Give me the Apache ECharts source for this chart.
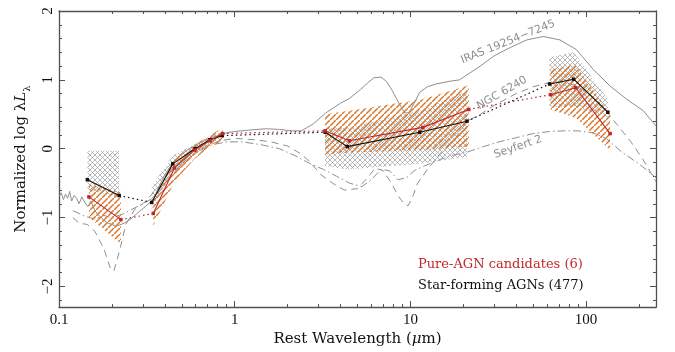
<!DOCTYPE html>
<html>
<head>
<meta charset="utf-8">
<script src="https://cdn.jsdelivr.net/npm/echarts@6/dist/echarts.min.js"></script>
<style>
  html, body { margin: 0; padding: 0; background: #fff; }
  #chart { width: 675px; height: 352px; }
</style>
</head>
<body>
<div id="chart"></div>
<script>
// star-forming AGNs (477): median SED, rest wavelength in micron
const sfWave = [0.145, 0.22, 0.337, 0.444, 0.594, 0.722, 0.85, 3.27, 4.37, 11.3, 21, 62, 85, 133];
const sfLum = [-0.45, -0.68, -0.78, -0.22, 0.0, 0.13, 0.19, 0.24, 0.03, 0.24, 0.40, 0.94, 1.01, 0.53];
const sfUpper = [-0.03, -0.03, -0.55, -0.1, 0.07, 0.18, 0.25, 0.3, 0.3, 0.55, 0.84, 1.33, 1.40, 0.72];
const sfLower = [-0.6, -0.7, -0.88, -0.33, -0.08, 0.07, 0.13, -0.25, -0.3, -0.22, -0.12, 0.6, 0.62, 0.45];

// pure-AGN candidates (6)
const agnWave = [0.148, 0.225, 0.344, 0.454, 0.59, 0.72, 0.855, 3.27, 4.49, 11.75, 21.5, 62.8, 87.3, 137];
const agnLum = [-0.70, -1.03, -0.94, -0.28, -0.02, 0.115, 0.22, 0.26, 0.115, 0.31, 0.57, 0.785, 0.886, 0.22];
const agnUpper = [-0.52, -0.63, -0.75, -0.15, 0.05, 0.2, 0.3, 0.5, 0.55, 0.72, 0.92, 1.15, 1.22, 0.5];
const agnLower = [-1.0, -1.38, -1.12, -0.48, -0.15, 0.02, 0.12, -0.08, -0.06, -0.02, 0.03, 0.57, 0.45, -0.02];

// band groups (UV, optical, MIR, FIR) as index ranges
const bandGroups = [[0, 1], [2, 6], [7, 10], [11, 13]];

// templates
const irasWave = [0.1, 0.103, 0.106, 0.109, 0.112, 0.115, 0.118, 0.122, 0.126, 0.13, 0.135, 0.14, 0.146, 0.152, 0.16, 0.17, 0.18, 0.19, 0.2, 0.21, 0.22, 0.235, 0.25, 0.27, 0.29, 0.31, 0.33, 0.35, 0.37, 0.4, 0.43, 0.46, 0.5, 0.55, 0.6, 0.65, 0.7, 0.8, 0.9, 1.0, 1.2, 1.5, 1.8, 2.1, 2.4, 2.8, 3.3, 4.0, 4.5, 5.2, 5.8, 6.2, 6.8, 7.3, 7.9, 8.6, 9.3, 9.8, 10.5, 11.3, 12.5, 14, 16.8, 19, 21.8, 25, 30, 37, 46, 57, 71, 88, 110, 137, 170, 212, 250];
const irasLum = [-0.70, -0.64, -0.74, -0.66, -0.72, -0.62, -0.76, -0.68, -0.72, -0.80, -0.70, -0.78, -0.84, -0.76, -0.90, -0.98, -1.04, -1.08, -1.10, -1.12, -1.11, -1.08, -1.04, -0.97, -0.90, -0.84, -0.78, -0.70, -0.55, -0.38, -0.26, -0.16, -0.08, 0.0, 0.05, 0.1, 0.14, 0.19, 0.23, 0.25, 0.27, 0.29, 0.28, 0.26, 0.26, 0.36, 0.52, 0.66, 0.73, 0.86, 0.97, 1.03, 1.04, 0.98, 0.84, 0.66, 0.52, 0.52, 0.66, 0.82, 0.9, 0.94, 0.98, 1.0, 1.10, 1.2, 1.35, 1.47, 1.58, 1.63, 1.58, 1.44, 1.15, 0.91, 0.72, 0.55, 0.33];

const ngcWave = [0.12, 0.13, 0.145, 0.16, 0.18, 0.195, 0.205, 0.215, 0.225, 0.24, 0.27, 0.3, 0.35, 0.4, 0.45, 0.5, 0.6, 0.7, 0.85, 1.0, 1.3, 1.6, 2.0, 2.4, 2.7, 3.1, 3.6, 4.2, 5.0, 5.8, 6.3, 7.0, 7.8, 8.5, 9.2, 9.7, 10.3, 11.0, 12.5, 15, 18, 21, 25, 30, 40, 50, 62, 75, 90, 110, 130, 150, 180, 210, 250];
const ngcLum = [-1.0, -1.08, -1.1, -1.2, -1.45, -1.72, -1.78, -1.6, -1.4, -1.1, -0.88, -0.8, -0.62, -0.48, -0.35, -0.22, -0.06, 0.05, 0.12, 0.15, 0.13, 0.1, 0.04, -0.08, -0.2, -0.38, -0.5, -0.6, -0.58, -0.4, -0.28, -0.32, -0.5, -0.68, -0.8, -0.83, -0.7, -0.5, -0.3, -0.05, 0.15, 0.4, 0.5, 0.63, 0.8, 0.9, 0.96, 0.97, 0.9, 0.75, 0.55, 0.35, 0.1, -0.15, -0.48];

const sy2Wave = [0.12, 0.14, 0.16, 0.18, 0.2, 0.23, 0.26, 0.3, 0.34, 0.38, 0.42, 0.5, 0.6, 0.75, 0.9, 1.1, 1.4, 1.8, 2.2, 2.7, 3.2, 3.8, 4.5, 5.3, 6.0, 6.8, 7.6, 8.5, 9.5, 10.5, 12, 14, 17, 21, 26, 32, 40, 50, 62, 75, 90, 110, 130, 160, 200, 250];
const sy2Lum = [-0.9, -0.98, -1.02, -0.97, -1.0, -0.95, -0.88, -0.8, -0.72, -0.6, -0.45, -0.22, -0.06, 0.06, 0.1, 0.1, 0.06, 0.0, -0.1, -0.22, -0.3, -0.4, -0.5, -0.55, -0.45, -0.3, -0.32, -0.45, -0.42, -0.32, -0.25, -0.18, -0.1, -0.05, 0.03, 0.1, 0.16, 0.22, 0.25, 0.26, 0.26, 0.23, 0.15, -0.05, -0.22, -0.42];

// ticks
const xMajorTicks = [0.1, 1, 10, 100];
const xMinorTicks = [0.2, 0.3, 0.4, 0.5, 0.6, 0.7, 0.8, 0.9, 2, 3, 4, 5, 6, 7, 8, 9, 20, 30, 40, 50, 60, 70, 80, 90, 200];
const yMajorTicks = [-2, -1, 0, 1, 2];
const yMinorTicks = [-2.2, -1.8, -1.6, -1.4, -1.2, -0.8, -0.6, -0.4, -0.2, 0.2, 0.4, 0.6, 0.8, 1.2, 1.4, 1.6, 1.8];

const RED = '#c0272d';
const ORANGE = '#d9782f';
const TEMPLATE = '#8f8f8f';
const FRAME = '#505050';

const lg = v => Math.log10(v);
const toXY = (wave, lum) => wave.map((w, i) => [lg(w), lum[i]]);

function makeHatch(size, color, width, cross) {
  const c = document.createElement('canvas');
  c.width = size; c.height = size;
  const ctx = c.getContext('2d');
  ctx.strokeStyle = color;
  ctx.lineWidth = width;
  ctx.beginPath();
  ctx.moveTo(-1, size + 1); ctx.lineTo(size + 1, -1);
  if (cross) {
    ctx.moveTo(-1, -1); ctx.lineTo(size + 1, size + 1);
  }
  ctx.stroke();
  return c;
}
const grayHatch = makeHatch(5, '#a2a2a2', 0.75, true);
const orangeHatch = makeHatch(6, ORANGE, 1.5, false);

function bandPolygons(wave, upper, lower) {
  return bandGroups.map(([a, b]) => {
    const pts = [];
    for (let i = a; i <= b; i++) pts.push([lg(wave[i]), upper[i]]);
    for (let i = b; i >= a; i--) pts.push([lg(wave[i]), lower[i]]);
    return pts;
  });
}

function hatchSeries(polys, pattern, z) {
  return {
    type: 'custom',
    z: z,
    silent: true,
    data: polys.map(p => p[0]),
    renderItem: (params, api) => ({
      type: 'polygon',
      shape: { points: polys[params.dataIndex].map(p => api.coord(p)) },
      style: { fill: { image: pattern, repeat: 'repeat' }, stroke: null }
    })
  };
}

function sedSeries(wave, lum, color, z) {
  const out = [];
  bandGroups.forEach(([a, b], g) => {
    const pts = [];
    for (let i = a; i <= b; i++) pts.push([lg(wave[i]), lum[i]]);
    out.push({
      type: 'line', z: z, data: pts, symbol: 'rect', symbolSize: 3.5,
      itemStyle: { color: color }, lineStyle: { color: color, width: 1.1 }
    });
    if (g < bandGroups.length - 1) {
      const n = bandGroups[g + 1][0];
      out.push({
        type: 'line', z: z, data: [[lg(wave[b]), lum[b]], [lg(wave[n]), lum[n]]], symbol: 'none',
        lineStyle: { color: color, width: 1.2, type: [1.5, 3] }
      });
    }
  });
  return out;
}

function templateSeries(wave, lum, dash) {
  return {
    type: 'line', z: 1, data: toXY(wave, lum), symbol: 'none',
    lineStyle: { color: TEMPLATE, width: 1, type: dash }
  };
}

const xFmt = v => {
  const r = Math.pow(10, v);
  return r < 1 ? r.toFixed(1) : String(Math.round(r));
};
const yFmt = v => (v < 0 ? '\u2212' + Math.abs(v) : String(v));

function xAxisDef(pos, ticks, len, major) {
  return {
    type: 'value', position: pos, min: -1, max: lg(250),
    axisLine: { show: major, onZero: false, lineStyle: { color: FRAME, width: 1.3 } },
    axisTick: { show: true, inside: true, length: len, customValues: ticks.map(lg), lineStyle: { color: FRAME, width: 1 } },
    axisLabel: {
      show: major && pos === 'bottom', customValues: xMajorTicks.map(lg), formatter: xFmt, margin: 5,
      color: '#111', fontFamily: 'Liberation Serif', fontSize: 15
    },
    splitLine: { show: false }
  };
}
function yAxisDef(pos, ticks, len, major) {
  return {
    type: 'value', position: pos, min: -2.3, max: 2,
    axisLine: { show: major, onZero: false, lineStyle: { color: FRAME, width: 1.3 } },
    axisTick: { show: true, inside: true, length: len, customValues: ticks, lineStyle: { color: FRAME, width: 1 } },
    axisLabel: {
      show: major && pos === 'left', customValues: yMajorTicks, formatter: yFmt, rotate: 90, margin: 3,
      color: '#111', fontFamily: 'Liberation Serif', fontSize: 15
    },
    splitLine: { show: false }
  };
}

const xAxes = [
  xAxisDef('bottom', xMajorTicks, 6, true),
  xAxisDef('bottom', xMinorTicks, 3, false),
  xAxisDef('top', xMajorTicks, 6, true),
  xAxisDef('top', xMinorTicks, 3, false)
];
xAxes[0].name = '{a|Rest Wavelength (}{i|\u03bc}{a|m)}';
xAxes[0].nameLocation = 'middle';
xAxes[0].nameGap = 22;
xAxes[0].nameTextStyle = {
  rich: {
    a: { fontFamily: 'DejaVu Serif', fontSize: 15, color: '#111' },
    i: { fontFamily: 'DejaVu Serif', fontSize: 15, fontStyle: 'italic', color: '#111' }
  }
};

const yAxes = [
  yAxisDef('left', yMajorTicks, 6, true),
  yAxisDef('left', yMinorTicks, 3, false),
  yAxisDef('right', yMajorTicks, 6, true),
  yAxisDef('right', yMinorTicks, 3, false)
];
yAxes[0].name = '{a|Normalized log \u03bb}{i|L}{s|\u03bb}';
yAxes[0].nameLocation = 'middle';
yAxes[0].nameRotate = 90;
yAxes[0].nameGap = 27;
yAxes[0].nameTextStyle = {
  rich: {
    a: { fontFamily: 'DejaVu Serif', fontSize: 15, color: '#111', lineHeight: 22 },
    i: { fontFamily: 'DejaVu Serif', fontSize: 15, fontStyle: 'italic', color: '#111', lineHeight: 22 },
    s: { fontFamily: 'DejaVu Serif', fontSize: 10, color: '#111', lineHeight: 22, verticalAlign: 'bottom' }
  }
};

const chart = echarts.init(document.getElementById('chart'));
chart.setOption({
  animation: false,
  backgroundColor: '#fff',
  grid: { left: 59, right: 19, top: 11, bottom: 43 },
  xAxis: xAxes,
  yAxis: yAxes,
  series: [
    templateSeries(irasWave, irasLum, 'solid'),
    templateSeries(ngcWave, ngcLum, [7, 5]),
    templateSeries(sy2Wave, sy2Lum, [8, 3, 1.5, 3]),
    hatchSeries(bandPolygons(sfWave, sfUpper, sfLower), grayHatch, 2),
    hatchSeries(bandPolygons(agnWave, agnUpper, agnLower), orangeHatch, 3),
    ...sedSeries(sfWave, sfLum, '#111', 5),
    ...sedSeries(agnWave, agnLum, RED, 6)
  ],
  graphic: [
    { type: 'text', x: 508, y: 42, rotation: 22 * Math.PI / 180,
      style: { text: 'IRAS 19254\u22127245', fill: TEMPLATE, font: '11px "DejaVu Sans"', align: 'center', verticalAlign: 'middle' } },
    { type: 'text', x: 502, y: 93, rotation: 30 * Math.PI / 180,
      style: { text: 'NGC 6240', fill: TEMPLATE, font: '11px "DejaVu Sans"', align: 'center', verticalAlign: 'middle' } },
    { type: 'text', x: 518, y: 147, rotation: 19 * Math.PI / 180,
      style: { text: 'Seyfert 2', fill: TEMPLATE, font: '11px "DejaVu Sans"', align: 'center', verticalAlign: 'middle' } },
    { type: 'text', x: 418, y: 265,
      style: { text: 'Pure-AGN candidates (6)', fill: RED, font: '13px "DejaVu Serif"', align: 'left', verticalAlign: 'middle' } },
    { type: 'text', x: 418, y: 286,
      style: { text: 'Star-forming AGNs (477)', fill: '#111', font: '13px "DejaVu Serif"', align: 'left', verticalAlign: 'middle' } }
  ]
});
window.addEventListener('resize', () => chart.resize());
</script>
</body>
</html>
